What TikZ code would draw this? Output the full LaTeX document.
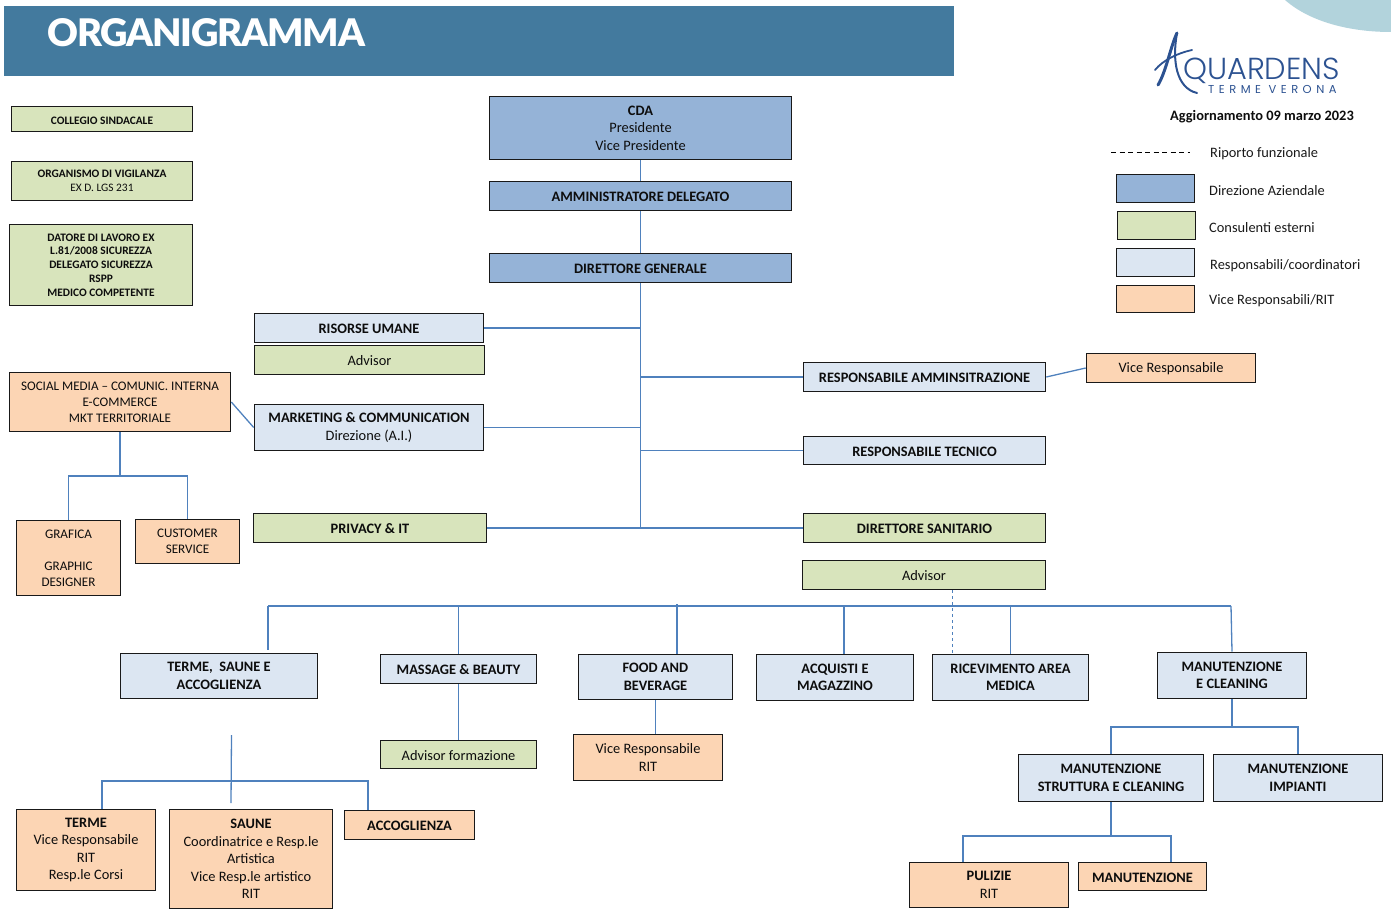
\documentclass[tikz,border=0pt]{standalone}
\usepackage{fontspec}
\setmainfont{Carlito}
\newfontfamily\titolofont[LetterSpace=-3]{Lato Black}
\newfontfamily\logofont{Poppins Light}
\newfontfamily\logotermefont[LetterSpace=39]{Poppins}
\definecolor{corfaixa}{RGB}{67,122,158}
\definecolor{cordirezione}{RGB}{149,179,215}
\definecolor{corconsulenti}{RGB}{216,228,188}
\definecolor{corresponsabili}{RGB}{220,230,242}
\definecolor{corvice}{RGB}{252,213,180}
\definecolor{corlinha}{RGB}{79,129,189}
\definecolor{corlogo}{RGB}{44,82,145}
\definecolor{corcurva}{RGB}{178,211,220}
\tikzset{
  blocobase/.style={draw=black!90, line width=1.6pt, inner sep=0pt, align=center, text=black!95, font=\fontsize{14.4}{17.5}\selectfont, execute at begin node={\rule{0pt}{12pt}}},
  direzione/.style={blocobase, fill=cordirezione},
  consulenti/.style={blocobase, fill=corconsulenti},
  responsabili/.style={blocobase, fill=corresponsabili},
  vice/.style={blocobase, fill=corvice},
  pequeno/.style={font=\fontsize{11.4}{13.8}\selectfont},
  medio/.style={font=\fontsize{13.1}{16}\selectfont},
  linha/.style={draw=corlinha, line width=1.3pt},
  legenda/.style={anchor=west, inner sep=0pt, text=black!90, font=\fontsize{14.4}{16}\selectfont},
}
\begin{document}
\begin{tikzpicture}[x=1pt,y=-1pt]
  \useasboundingbox (0,0) rectangle (1391,909);
  % cabecalho
  \fill[corcurva] (1285,0) .. controls (1310,22) and (1350,32) .. (1391,32) -- (1391,0) -- cycle;
  \node[fill=corfaixa, minimum width=950pt, minimum height=70pt, inner sep=0pt] (faixa) at (479,41) {};
  \node[anchor=base west, inner sep=0pt, text=white, font=\titolofont\fontsize{38}{38}\selectfont] (titolo) at (47,46.5) {ORGANIGRAMMA};
  % logo
  \draw[corlogo, line width=3pt, line cap=round] (1158,85) .. controls (1166,72) and (1171,45) .. (1177,33);
  \draw[corlogo, line width=2pt, line cap=round] (1177,33) .. controls (1172,60) and (1176,88) .. (1197,93);
  \draw[corlogo, line width=1.8pt, line cap=round] (1155,70) .. controls (1163,60) and (1178,53) .. (1192,50);
  \node[anchor=base west, inner sep=0pt, text=corlogo, font=\logofont\fontsize{30.4}{30}\selectfont] (logoa) at (1183,80) {QUARDENS};
  \node[anchor=base west, inner sep=0pt, text=corlogo, font=\logotermefont\fontsize{11.5}{12}\selectfont] (logob) at (1208,94) {TERME VERONA};
  \node[inner sep=0pt, text=black!95, font=\bfseries\fontsize{14.4}{16}\selectfont] (aggiorn) at (1262,117) {Aggiornamento 09 marzo 2023};
  % legenda
  \coordinate (dashA) at (1111,152);
  \coordinate (dashB) at (1190,152);
  \draw[black, line width=.8pt, dash pattern=on 5pt off 3.5pt] (dashA) -- (dashB);
  \node[legenda] (legA) at (1210,154) {Riporto funzionale};
  \node[direzione, minimum width=78pt, minimum height=28pt] (boxB) at (1155.5,188.5) {};
  \node[legenda] (legB) at (1209,191) {Direzione Aziendale};
  \node[consulenti, minimum width=78pt, minimum height=28pt] (boxC) at (1156.5,225.5) {};
  \node[legenda] (legC) at (1209,228) {Consulenti esterni};
  \node[responsabili, minimum width=78pt, minimum height=28pt] (boxD) at (1155.5,262.5) {};
  \node[legenda] (legD) at (1210,266) {Responsabili/coordinatori};
  \node[vice, minimum width=78pt, minimum height=27pt] (boxE) at (1155.5,299) {};
  \node[legenda] (legE) at (1209,301) {Vice Responsabili/RIT};
  % colonna sinistra
  \node[consulenti, pequeno, minimum width=181pt, minimum height=25pt] (collegio) at (102,119) {\textbf{COLLEGIO SINDACALE}};
  \node[consulenti, pequeno, minimum width=181pt, minimum height=39pt] (organismo) at (102,181) {\textbf{ORGANISMO DI VIGILANZA}\\EX D. LGS 231};
  \node[consulenti, pequeno, minimum width=183pt, minimum height=81pt] (datore) at (101,265) {\textbf{DATORE DI LAVORO EX}\\\textbf{L.81/2008 SICUREZZA}\\\textbf{DELEGATO SICUREZZA}\\\textbf{RSPP}\\\textbf{MEDICO COMPETENTE}};
  % vertice
  \node[direzione, minimum width=302pt, minimum height=63pt] (cda) at (640.5,128) {\textbf{CDA}\\Presidente\\Vice Presidente};
  \node[direzione, minimum width=302pt, minimum height=29pt] (ad) at (640.5,196) {\textbf{AMMINISTRATORE DELEGATO}};
  \node[direzione, minimum width=302pt, minimum height=29pt] (dg) at (640.5,268) {\textbf{DIRETTORE GENERALE}};
  % staff
  \node[responsabili, minimum width=229pt, minimum height=29pt] (risorse) at (369,328) {\textbf{RISORSE UMANE}};
  \node[consulenti, minimum width=230pt, minimum height=29pt] (advisorA) at (369.5,360) {Advisor};
  \node[vice, medio, minimum width=221pt, minimum height=59pt] (social) at (120,402) {SOCIAL MEDIA -- COMUNIC. INTERNA\\E-COMMERCE\\MKT TERRITORIALE};
  \node[responsabili, minimum width=229pt, minimum height=46pt] (marketing) at (369,427.5) {\textbf{MARKETING \& COMMUNICATION}\\Direzione (A.I.)};
  \node[vice, medio, minimum width=104pt, minimum height=75pt] (grafica) at (68.5,558) {GRAFICA\\[16pt]GRAPHIC\\DESIGNER};
  \node[vice, medio, minimum width=104pt, minimum height=44pt] (customer) at (187.5,541.5) {CUSTOMER\\SERVICE};
  \node[consulenti, minimum width=233pt, minimum height=29pt] (privacy) at (370,528) {\textbf{PRIVACY \& IT}};
  \node[responsabili, minimum width=242pt, minimum height=29pt] (amministr) at (924.5,377) {\textbf{RESPONSABILE AMMINSITRAZIONE}};
  \node[vice, minimum width=169pt, minimum height=29pt] (viceresp) at (1171,368) {Vice Responsabile};
  \node[responsabili, minimum width=242pt, minimum height=28pt] (tecnico) at (924.5,450.5) {\textbf{RESPONSABILE TECNICO}};
  \node[consulenti, minimum width=242pt, minimum height=29pt] (sanitario) at (924.5,528) {\textbf{DIRETTORE SANITARIO}};
  \node[consulenti, minimum width=243pt, minimum height=29pt] (advisorB) at (924,575) {Advisor};
  % aree
  \node[responsabili, minimum width=197pt, minimum height=45pt] (termesaune) at (219,676) {\textbf{TERME,\ \ SAUNE E}\\\textbf{ACCOGLIENZA}};
  \node[responsabili, minimum width=156pt, minimum height=29pt] (massage) at (458.5,669) {\textbf{MASSAGE \& BEAUTY}};
  \node[responsabili, minimum width=154pt, minimum height=45pt] (food) at (655.5,677) {\textbf{FOOD AND}\\\textbf{BEVERAGE}};
  \node[responsabili, minimum width=157pt, minimum height=46pt] (acquisti) at (835,677.5) {\textbf{ACQUISTI E}\\\textbf{MAGAZZINO}};
  \node[responsabili, minimum width=156pt, minimum height=46pt] (ricevimento) at (1010.5,677.5) {\textbf{RICEVIMENTO AREA}\\\textbf{MEDICA}};
  \node[responsabili, minimum width=149pt, minimum height=46pt] (manutenz) at (1232,675.5) {\textbf{MANUTENZIONE}\\\textbf{E CLEANING}};
  \node[consulenti, minimum width=156pt, minimum height=28pt] (formazione) at (458.5,754.5) {Advisor formazione};
  \node[vice, minimum width=149pt, minimum height=46pt] (vicerit) at (648,757.5) {Vice Responsabile\\RIT};
  \node[vice, minimum width=139pt, minimum height=81pt] (terme) at (86,850) {\textbf{TERME}\\Vice Responsabile\\RIT\\Resp.le Corsi};
  \node[vice, minimum width=163pt, minimum height=99pt] (saune) at (251,859) {\textbf{SAUNE}\\Coordinatrice e Resp.le\\Artistica\\Vice Resp.le artistico\\RIT};
  \node[vice, minimum width=130pt, minimum height=29pt] (accoglienza) at (409.5,825) {\textbf{ACCOGLIENZA}};
  \node[responsabili, minimum width=185pt, minimum height=47pt] (struttura) at (1111,778) {\textbf{MANUTENZIONE}\\\textbf{STRUTTURA E CLEANING}};
  \node[responsabili, minimum width=169pt, minimum height=47pt] (impianti) at (1298,778) {\textbf{MANUTENZIONE}\\\textbf{IMPIANTI}};
  \node[vice, minimum width=159pt, minimum height=45pt] (pulizie) at (989,885) {\textbf{PULIZIE}\\RIT};
  \node[vice, minimum width=128pt, minimum height=28pt] (manutsub) at (1142.5,876.5) {\textbf{MANUTENZIONE}};
  % ligacoes do vertice
  \coordinate (fimcoluna) at (dg.south |- privacy.east);
  \draw[linha] (cda) -- (ad);
  \draw[linha] (ad) -- (dg);
  \draw[linha, line width=1.6pt] (dg) -- (fimcoluna);
  \draw[linha] (risorse.east) -- (risorse.east -| dg.south);
  \draw[linha] (marketing.east) -- (marketing.east -| dg.south);
  \draw[linha] (privacy) -- (sanitario);
  \draw[linha] (amministr.west) -- (amministr.west -| dg.south);
  \draw[linha] (tecnico.west) -- (tecnico.west -| dg.south);
  \draw[linha] (amministr.east) -- (viceresp.west);
  \draw[linha] (social.east) -- (marketing.west);
  % social
  \coordinate (juncaosocial) at (120,476);
  \draw[linha] (social.south) -- (juncaosocial);
  \draw[linha] (grafica.north) |- (juncaosocial) -| (customer.north);
  % barra das aree
  \coordinate (barraA) at (268,606);
  \coordinate (barraB) at (1231,606);
  \draw[linha] (barraA) -- (barraB);
  \draw[linha, shorten >=3pt] (barraA) -- (barraA |- termesaune.north);
  \draw[linha] (massage.north |- barraA) -- (massage.north);
  \coordinate (barraFood) at (677,604);
  \draw[linha] (barraFood) -- (barraFood |- food.north);
  \coordinate (barraAcq) at (844,606);
  \draw[linha] (barraAcq) -- (barraAcq |- acquisti.north);
  \draw[linha] (ricevimento.north |- barraA) -- (ricevimento.north);
  \draw[linha] (barraB) -- (manutenz.north);
  \coordinate (tratteggio) at (952,590);
  \draw[corlinha, line width=1pt, dashed] (tratteggio) -- (tratteggio |- ricevimento.north);
  \draw[linha] (massage) -- (formazione);
  \draw[linha] (food.south) -- (food.south |- vicerit.north);
  % terme, saune
  \coordinate (soltoA) at (231.5,735);
  \coordinate (soltoB) at (231,803);
  \coordinate (juncaoterme) at (231,781);
  \coordinate (ramoterme) at (102,809);
  \coordinate (ramoaccogl) at (368,810);
  \draw[linha] (soltoA) -- (soltoB);
  \draw[linha] (ramoterme) |- (juncaoterme) -| (ramoaccogl);
  % manutenzione
  \coordinate (juncaomanut) at (1232,727);
  \draw[linha] (manutenz.south) -- (juncaomanut);
  \draw[linha] (struttura.north) |- (juncaomanut) -| (impianti.north);
  \coordinate (juncaostrut) at (1111,836);
  \coordinate (ramopulizie) at (963,862);
  \coordinate (ramomanut) at (1171,862);
  \draw[linha] (struttura.south) -- (juncaostrut);
  \draw[linha] (ramopulizie) |- (juncaostrut) -| (ramomanut);
\end{tikzpicture}
\end{document}
